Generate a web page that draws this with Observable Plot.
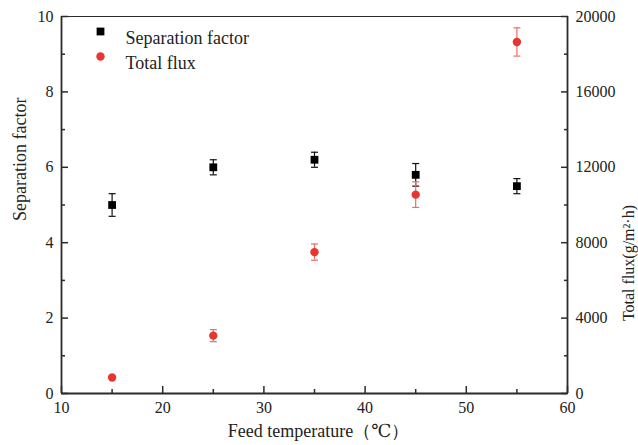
<!DOCTYPE html>
<html>
<head>
<meta charset="utf-8">
<script src="https://cdn.jsdelivr.net/npm/d3@7"></script>
<script src="https://cdn.jsdelivr.net/npm/@observablehq/plot@0.6"></script>
<style>
  html, body { margin: 0; padding: 0; background: #fff; }
  svg { display: block; }
  svg text, svg tspan { font-family: "Liberation Serif", "Times New Roman", "DejaVu Serif", serif !important; }
</style>
</head>
<body>
<div id="chart"></div>
<script>
// ---- data ----
const temperatures = [15, 25, 35, 45, 55];
const separationFactor = [5.0, 6.0, 6.2, 5.8, 5.5];
const separationErr = [0.3, 0.2, 0.2, 0.3, 0.2];
const totalFlux = [850, 3070, 7500, 10550, 18650];
const fluxErr = [40, 320, 430, 680, 750];

const xTicks = [10, 20, 30, 40, 50, 60];
const xMinor = [15, 25, 35, 45, 55];
const sfTicks = [0, 2, 4, 6, 8, 10];
const sfMinor = [1, 3, 5, 7, 9];
const fluxTicks = [0, 4000, 8000, 12000, 16000, 20000];
const fluxMinor = [2000, 6000, 10000, 14000, 18000];

const FLUX_PER_SF = 20000 / 10; // right axis 0–20000 aligned to left axis 0–10

const sfData = temperatures.map((t, i) => ({t, v: separationFactor[i], e: separationErr[i]}));
const fluxData = temperatures.map((t, i) => ({t, v: totalFlux[i] / FLUX_PER_SF, e: fluxErr[i] / FLUX_PER_SF}));

const cap = {
  draw(ctx, size) {
    const w = Math.sqrt(size / Math.PI);
    ctx.moveTo(-w, 0);
    ctx.lineTo(w, 0);
  }
};

const FONT = "Liberation Serif";
const AX = "#2b2b2b";
const RED = "#e83530";
const RED_ERR = "#ef6a64";
const FS = 16;

const plot = Plot.plot({
  width: 638,
  height: 445,
  marginLeft: 61,
  marginRight: 71,
  marginTop: 16,
  marginBottom: 52,
  style: {fontFamily: FONT, fontSize: "16px", color: "#222", background: "#fff"},
  x: {domain: [10, 60], axis: null},
  y: {domain: [0, 10], axis: null},
  marks: [
    // frame lines
    Plot.ruleY([10], {stroke: AX, strokeWidth: 1}),
    Plot.ruleY([0], {stroke: AX, strokeWidth: 1.8}),
    Plot.ruleX([10], {stroke: AX, strokeWidth: 1.8}),
    Plot.ruleX([60], {stroke: AX, strokeWidth: 1.8}),
    // axes (inward ticks)
    Plot.axisX({ticks: xTicks, tickSize: -7, tickPadding: 15, stroke: AX, strokeWidth: 1.5, label: null, fontSize: FS, fontFamily: FONT}),
    Plot.axisX({ticks: xMinor, tickSize: -4, tickFormat: () => "", stroke: AX, strokeWidth: 1.5, label: null}),
    Plot.axisY({anchor: "left", ticks: sfTicks, tickSize: -7, tickPadding: 15, stroke: AX, strokeWidth: 1.5, label: null, fontSize: FS, fontFamily: FONT}),
    Plot.axisY({anchor: "left", ticks: sfMinor, tickSize: -4, tickFormat: () => "", stroke: AX, strokeWidth: 1.5, label: null}),
    Plot.axisY({anchor: "right", ticks: fluxTicks.map(v => v / FLUX_PER_SF), tickFormat: v => String(Math.round(v * FLUX_PER_SF)), tickSize: -7, tickPadding: 15, stroke: AX, strokeWidth: 1.5, label: null, fontSize: FS, fontFamily: FONT}),
    Plot.axisY({anchor: "right", ticks: fluxMinor.map(v => v / FLUX_PER_SF), tickSize: -4, tickFormat: () => "", stroke: AX, strokeWidth: 1.5, label: null}),
    // axis titles
    Plot.text(["Feed temperature（℃）"], {frameAnchor: "bottom", dy: 43, dx: 4, fontSize: 18, fontFamily: FONT, fill: "#222"}),
    Plot.text(["Separation factor"], {frameAnchor: "left", rotate: -90, dx: -41, dy: 16, fontSize: 18, fontFamily: FONT, fill: "#222"}),
    Plot.text(["Total flux(g/m\u00B2\u00B7h)"], {frameAnchor: "right", rotate: -90, dx: 61, dy: 0, fontSize: 16, fontFamily: FONT, fill: "#222"}),
    // error bars: separation factor
    Plot.ruleX(sfData, {x: "t", y1: d => d.v - d.e, y2: d => d.v + d.e, stroke: "#111", strokeWidth: 1.2}),
    Plot.dot(sfData, {x: "t", y: d => d.v - d.e, symbol: cap, r: 3.5, stroke: "#111", strokeWidth: 1.2}),
    Plot.dot(sfData, {x: "t", y: d => d.v + d.e, symbol: cap, r: 3.5, stroke: "#111", strokeWidth: 1.2}),
    // error bars: flux
    Plot.ruleX(fluxData, {x: "t", y1: d => d.v - d.e, y2: d => d.v + d.e, stroke: RED_ERR, strokeWidth: 1.2}),
    Plot.dot(fluxData, {x: "t", y: d => d.v - d.e, symbol: cap, r: 3.5, stroke: RED_ERR, strokeWidth: 1.2}),
    Plot.dot(fluxData, {x: "t", y: d => d.v + d.e, symbol: cap, r: 3.5, stroke: RED_ERR, strokeWidth: 1.2}),
    // points
    Plot.dot(sfData, {x: "t", y: "v", symbol: "square", r: 4.4, fill: "#000", stroke: null}),
    Plot.dot(fluxData, {x: "t", y: "v", symbol: "circle", r: 4.2, fill: RED, stroke: null}),
    // legend
    Plot.dot(["Separation factor"], {frameAnchor: "top-left", dx: 39, dy: 15, symbol: "square", r: 4.4, fill: "#000", stroke: null}),
    Plot.text(["Separation factor"], {frameAnchor: "top-left", dx: 64, dy: 15, textAnchor: "start", fontSize: 18, fontFamily: FONT, fill: "#222"}),
    Plot.dot(["Total flux"], {frameAnchor: "top-left", dx: 39, dy: 40, symbol: "circle", r: 4.2, fill: RED, stroke: null}),
    Plot.text(["Total flux"], {frameAnchor: "top-left", dx: 64, dy: 40, textAnchor: "start", fontSize: 18, fontFamily: FONT, fill: "#222"})
  ]
});
document.getElementById("chart").appendChild(plot);
</script>
</body>
</html>
